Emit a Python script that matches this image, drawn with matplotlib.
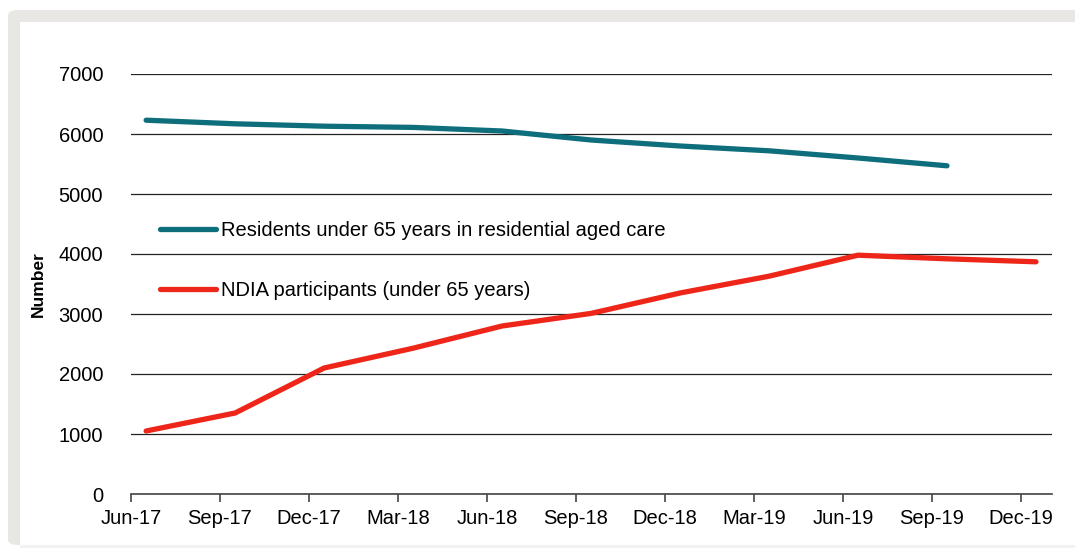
import matplotlib.pyplot as plt
from matplotlib.patches import Rectangle, FancyBboxPatch

plt.rcParams['font.family'] = ['Liberation Sans Narrow', 'Liberation Sans', 'DejaVu Sans']

quarters = ['Jun-17', 'Sep-17', 'Dec-17', 'Mar-18', 'Jun-18', 'Sep-18',
            'Dec-18', 'Mar-19', 'Jun-19', 'Sep-19', 'Dec-19']
residents = [6230, 6170, 6130, 6110, 6050, 5900, 5800, 5720, 5600, 5470]
ndia = [1050, 1350, 2100, 2430, 2800, 3010, 3350, 3630, 3980, 3920, 3870]

teal = '#0F6E7C'
red = '#EE2619'

fig = plt.figure(figsize=(10.75, 5.48), dpi=100)
W, H = 1075, 548

# grey frame around the chart
fig.patches.append(FancyBboxPatch((8 / W, 3 / H), 1.2, (538 - 3) / H,
                                  boxstyle='round,pad=0,rounding_size=0.01',
                                  transform=fig.transFigure, facecolor='#E8E7E3',
                                  edgecolor='none', zorder=0))
fig.patches.append(Rectangle((20 / W, 3 / H), 1.2, (526 - 3) / H,
                             transform=fig.transFigure, facecolor='white',
                             edgecolor='none', zorder=0))
fig.patches.append(Rectangle((20 / W, 0), 1.2, 3 / H,
                             transform=fig.transFigure, facecolor='#F2F2F0',
                             edgecolor='none', zorder=0))

ax = fig.add_axes([131 / W, 1 - 494 / H, (1052 - 131) / W, (494 - 74) / H])
ax.set_zorder(2)
ax.patch.set_alpha(0)

offset = 0.17
x_res = [i + offset for i in range(len(residents))]
x_ndia = [i + offset for i in range(len(ndia))]

ax.plot(x_res, residents, color=teal, lw=3.8, solid_capstyle='round',
        label='Residents under 65 years in residential aged care', zorder=3)
ax.plot(x_ndia, ndia, color=red, lw=3.8, solid_capstyle='round',
        label='NDIA participants (under 65 years)', zorder=3)

ax.set_xlim(0, 10.35)
ax.set_ylim(0, 7000)
ax.set_yticks(range(0, 7001, 1000))
ax.set_xticks(range(len(quarters)))
ax.set_xticklabels(quarters)
ax.grid(axis='y', color='#222222', lw=0.9)
ax.set_axisbelow(True)

for s in ['top', 'right', 'left']:
    ax.spines[s].set_visible(False)
ax.spines['bottom'].set_color('#444444')
ax.spines['bottom'].set_linewidth(1.2)
ax.tick_params(axis='y', length=0, pad=20, labelsize=14.5)
ax.tick_params(axis='x', length=6, width=1.2, color='#444444', pad=5, labelsize=14.5)

ax.set_ylabel('Number', fontsize=12.5, fontweight='bold', labelpad=9)

ax.legend(loc='upper left', bbox_to_anchor=(0.023, 0.668), borderaxespad=0,
          frameon=False, fontsize=14.5, handlelength=2.75, handletextpad=0.25,
          labelspacing=2.0)

fig.savefig('out.png', dpi=100)
